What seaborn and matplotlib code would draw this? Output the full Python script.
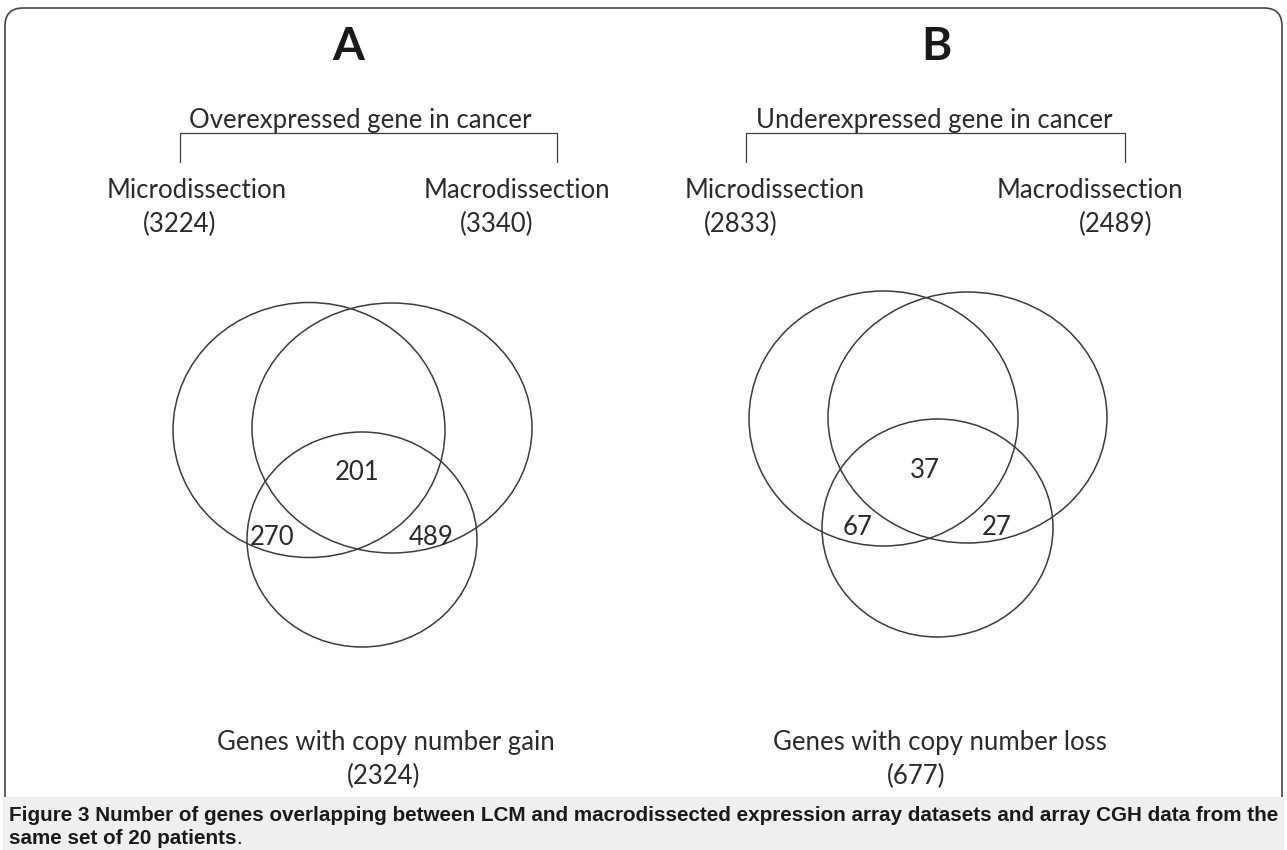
import matplotlib
matplotlib.use("Agg")
import matplotlib.pyplot as plt
from matplotlib.patches import Ellipse, FancyBboxPatch, Rectangle
import seaborn as sns

# ---------------- data ----------------
panel_letters = ["A", "B"]
panel_titles = ["Overexpressed gene in cancer", "Underexpressed gene in cancer"]
set_names = ["Microdissection", "Macrodissection"]
micro_counts = [3224, 2833]
macro_counts = [3340, 2489]
cgh_labels = ["Genes with copy number gain", "Genes with copy number loss"]
cgh_counts = [2324, 677]
triple_counts = [201, 37]
micro_cgh_counts = [270, 67]
macro_cgh_counts = [489, 27]
caption_line1 = ("Figure 3 Number of genes overlapping between LCM and macrodissected expression "
                 "array datasets and array CGH data from the")
caption_line2 = "same set of 20 patients"

# ---------------- style ----------------
sns.set_theme(style="white")
plt.rcParams["font.family"] = ["Lato", "DejaVu Sans"]
INK = "#2b2b2b"
LINE = "#3c3c3c"
MAIN_FONT = ["Lato", "DejaVu Sans"]
CAP_FONT = ["Liberation Sans", "DejaVu Sans"]

W, H = 1287, 850
fig = plt.figure(figsize=(W / 100, H / 100), dpi=100)
ax = fig.add_axes([0, 0, 1, 1])
ax.set_xlim(0, W)
ax.set_ylim(H, 0)
ax.axis("off")

# ---------------- frame & caption band ----------------
frame = FancyBboxPatch((5, 8), 1277, 900, boxstyle="round,pad=0,rounding_size=18",
                       facecolor="none", edgecolor="#444444", linewidth=1.2, zorder=1)
ax.add_patch(frame)
ax.add_patch(Rectangle((3, 797), 1281, 60, facecolor="#efefef", edgecolor="none", zorder=2))

# ---------------- layout per panel ----------------
layout = [
    dict(letter_x=348, title_x=360, br=(180, 557), micro_x=197, micro_cx=180,
         macro_x=517, macro_cx=497,
         ell=[(309, 430, 136, 127.5), (392, 428, 140, 125), (362, 539.5, 115, 107.5)],
         num_pos=[(357.5, 480), (272, 545), (431, 545)], bottom_x=386, bottom_cx=384),
    dict(letter_x=936, title_x=934, br=(746, 1125), micro_x=775, micro_cx=741,
         macro_x=1090, macro_cx=1116,
         ell=[(883.5, 418.5, 134.5, 127.5), (967.5, 417.5, 139.5, 125.5), (937.5, 528, 115.5, 109)],
         num_pos=[(925, 478), (858, 535), (997, 535)], bottom_x=940, bottom_cx=916),
]

fs = 18.5
for i, L in enumerate(layout):
    ax.text(L["letter_x"], 60, panel_letters[i], ha="center", va="baseline",
            fontsize=33, fontweight="bold", color="#1a1a1a", family=MAIN_FONT, zorder=3)
    ax.text(L["title_x"], 128, panel_titles[i], ha="center", va="baseline",
            fontsize=fs, color=INK, family=MAIN_FONT, zorder=3)
    x0, x1 = L["br"]
    ax.plot([x0, x0, x1, x1], [162, 133, 133, 162], color=LINE, lw=0.9, zorder=3)
    ax.text(L["micro_x"], 198, set_names[0], ha="center", va="baseline",
            fontsize=fs, color=INK, family=MAIN_FONT, zorder=3)
    ax.text(L["micro_cx"], 232, f"({micro_counts[i]})", ha="center", va="baseline",
            fontsize=fs, color=INK, family=MAIN_FONT, zorder=3)
    ax.text(L["macro_x"], 198, set_names[1], ha="center", va="baseline",
            fontsize=fs, color=INK, family=MAIN_FONT, zorder=3)
    ax.text(L["macro_cx"], 232, f"({macro_counts[i]})", ha="center", va="baseline",
            fontsize=fs, color=INK, family=MAIN_FONT, zorder=3)
    for (cx, cy, rx, ry) in L["ell"]:
        ax.add_patch(Ellipse((cx, cy), 2 * rx, 2 * ry, facecolor="none",
                             edgecolor=LINE, linewidth=1.1, zorder=3))
    vals = [triple_counts[i], micro_cgh_counts[i], macro_cgh_counts[i]]
    for (px, py), v in zip(L["num_pos"], vals):
        ax.text(px, py, str(v), ha="center", va="baseline", fontsize=fs,
                color=INK, family=MAIN_FONT, zorder=3)
    ax.text(L["bottom_x"], 750, cgh_labels[i], ha="center", va="baseline",
            fontsize=fs, color=INK, family=MAIN_FONT, zorder=3)
    ax.text(L["bottom_cx"], 784, f"({cgh_counts[i]})", ha="center", va="baseline",
            fontsize=fs, color=INK, family=MAIN_FONT, zorder=3)

# ---------------- caption (bold title sentence, fitted to the frame width) ----------------
renderer = fig.canvas.get_renderer()
cap_fs = 15.0
t1 = ax.text(9, 821, caption_line1, ha="left", va="baseline", fontsize=cap_fs,
             fontweight="bold", color="#1a1a1a", family=CAP_FONT, zorder=4)
w = t1.get_window_extent(renderer).width
cap_fs = cap_fs * 1270.0 / w
t1.set_fontsize(cap_fs)
t2 = ax.text(9, 844, caption_line2, ha="left", va="baseline", fontsize=cap_fs,
             fontweight="bold", color="#1a1a1a", family=CAP_FONT, zorder=4)
bb2 = t2.get_window_extent(renderer)
ax.text(bb2.x1, 844, ".", ha="left", va="baseline", fontsize=cap_fs,
        color="#1a1a1a", family=CAP_FONT, zorder=4)

fig.savefig("out.png", dpi=100)
